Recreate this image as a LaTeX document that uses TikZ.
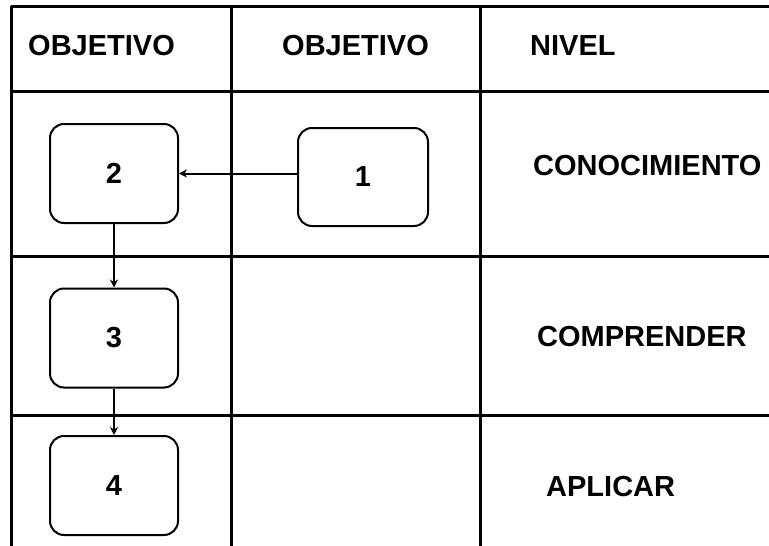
\documentclass[tikz,border=0pt]{standalone}
\usepackage{fontspec}
\setmainfont{Liberation Sans}
\usetikzlibrary{arrows.meta}
\begin{document}
\begin{tikzpicture}[x=1pt,y=-1pt,
  rule/.style={line width=3pt},
  objbox/.style={draw, line width=2pt, rounded corners=14pt,
    minimum width=128pt, minimum height=99pt, inner sep=0pt,
    font=\fontsize{29}{30}\selectfont\bfseries},
  lvltext/.style={anchor=base west, inner sep=0pt,
    font=\fontsize{29}{30}\selectfont\bfseries},
  flow/.style={line width=2pt, -{Stealth[length=8pt,width=8pt]}}]
  \useasboundingbox (0,0) rectangle (769,546);
  \clip (0,0) rectangle (769,546);

  % table rules
  \draw[rule] (11,6) -- (769,6);
  \draw[rule] (11,91) -- (769,91);
  \draw[rule] (11,256) -- (769,256);
  \draw[rule] (11,415) -- (769,415);
  \draw[rule] (11,6) -- (11,546);
  \draw[rule] (231,6) -- (231,546);
  \draw[rule] (480,6) -- (480,546);

  % column headings
  \node[lvltext] (h1) at (28,55.5) {OBJETIVO};
  \node[lvltext] (h2) at (282,55.5) {OBJETIVO};
  \node[lvltext] (h3) at (530,55.5) {NIVEL};

  % level names
  \node[lvltext] (l1) at (533,175) {CONOCIMIENTO};
  \node[lvltext] (l2) at (537,346) {COMPRENDER};
  \node[lvltext] (l3) at (546,496) {APLICAR};

  % objective boxes
  \node[objbox] (b2) at (114,173.5) {2};
  \node[objbox, minimum width=130pt, minimum height=98pt] (b1) at (363,177) {1};
  \node[objbox] (b3) at (114,338) {3};
  \node[objbox] (b4) at (114,485.5) {4};

  % connectors
  \draw[flow] (b1.west |- b2.east) -- (b2.east);
  \draw[flow] (b2.south) -- (b3.north);
  \draw[flow] (b3.south) -- (b4.north);
\end{tikzpicture}
\end{document}
